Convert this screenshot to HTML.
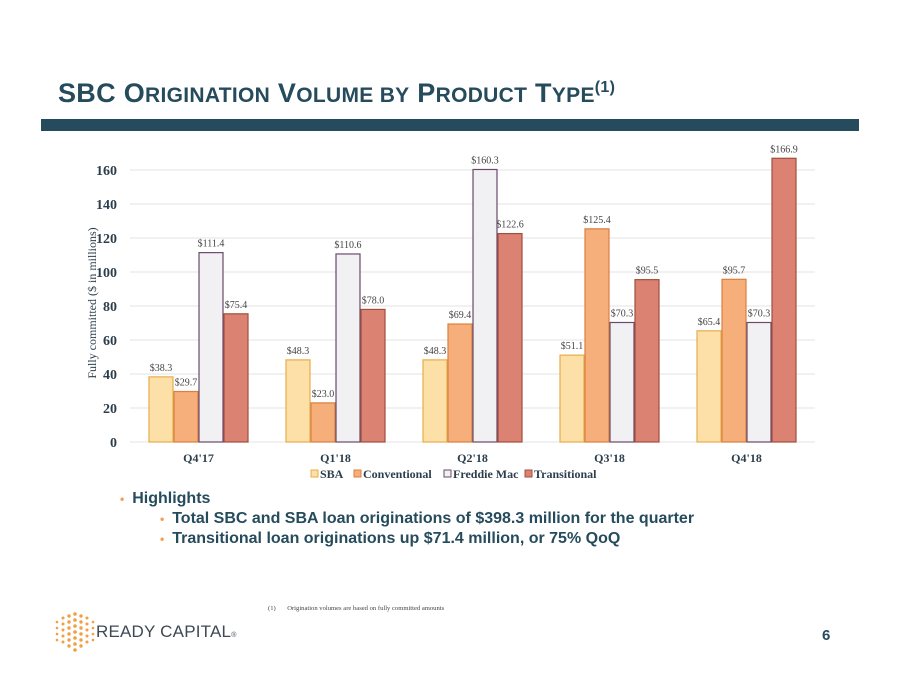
<!DOCTYPE html>
<html><head><meta charset="utf-8"><style>
body{margin:0;width:900px;height:695px;background:#fff;position:relative;font-family:"Liberation Sans",sans-serif;overflow:hidden}
.title{position:absolute;left:58px;top:78px;color:#264b5d;font-weight:bold;font-size:27px;letter-spacing:0.3px}
.title small{font-size:21px}
.band{position:absolute;left:41px;top:119px;width:818px;height:12px;background:#264b5d}
.hl{position:absolute;color:#264b5d;font-weight:bold;font-size:16px}
.hl .b{color:#f0a050;font-size:12px;margin-right:8px}
</style></head><body>
<div class="title">SBC O<small>RIGINATION</small> V<small>OLUME BY</small> P<small>RODUCT</small> T<small>YPE</small><sup style="font-size:16px">(1)</sup></div>
<div class="band"></div>
<svg id="chart" width="900" height="695" style="position:absolute;left:0;top:0" font-family="Liberation Serif, serif"></svg>
<div class="hl" style="left:120px;top:490px"><span class="b">•</span>Highlights</div>
<div class="hl" style="left:160px;top:510px"><span class="b">•</span>Total SBC and SBA loan originations of $398.3 million for the quarter</div>
<div class="hl" style="left:160px;top:530px"><span class="b">•</span>Transitional loan originations up $71.4 million, or 75% QoQ</div>
<div style="position:absolute;left:268px;top:605px;font-family:'Liberation Serif',serif;font-size:6.6px;color:#444">(1)&nbsp;&nbsp;&nbsp;&nbsp;&nbsp;&nbsp;&nbsp;Origination volumes are based on fully committed amounts</div>
<svg style="position:absolute;left:52px;top:612px" width="46" height="40">
<g fill="#f0a040">
<circle cx="5" cy="10" r="1.3"/><circle cx="5" cy="16" r="1.3"/><circle cx="5" cy="22" r="1.3"/><circle cx="5" cy="28" r="1.3"/>
<circle cx="11" cy="6" r="1.5"/><circle cx="11" cy="12" r="1.5"/><circle cx="11" cy="18" r="1.5"/><circle cx="11" cy="24" r="1.5"/><circle cx="11" cy="30" r="1.5"/>
<circle cx="17" cy="4" r="1.7"/><circle cx="17" cy="10" r="1.7"/><circle cx="17" cy="16" r="1.7"/><circle cx="17" cy="22" r="1.7"/><circle cx="17" cy="28" r="1.7"/><circle cx="17" cy="34" r="1.7"/>
<circle cx="23" cy="2" r="1.8"/><circle cx="23" cy="8" r="1.8"/><circle cx="23" cy="14" r="1.8"/><circle cx="23" cy="20" r="1.8"/><circle cx="23" cy="26" r="1.8"/><circle cx="23" cy="32" r="1.8"/><circle cx="23" cy="38" r="1.8"/>
<circle cx="29" cy="4" r="1.7"/><circle cx="29" cy="10" r="1.7"/><circle cx="29" cy="16" r="1.7"/><circle cx="29" cy="22" r="1.7"/><circle cx="29" cy="28" r="1.7"/><circle cx="29" cy="34" r="1.7"/>
<circle cx="35" cy="6" r="1.5"/><circle cx="35" cy="12" r="1.5"/><circle cx="35" cy="18" r="1.5"/><circle cx="35" cy="24" r="1.5"/><circle cx="35" cy="30" r="1.5"/>
<circle cx="41" cy="10" r="1.3"/><circle cx="41" cy="16" r="1.3"/><circle cx="41" cy="22" r="1.3"/><circle cx="41" cy="28" r="1.3"/>
</g></svg>
<div style="position:absolute;left:96px;top:622px;font-size:17px;color:#3d4a55;letter-spacing:0.2px">READY CAPITAL<span style="font-size:7px">®</span></div>
<div style="position:absolute;left:822px;top:627px;font-size:15px;font-weight:bold;color:#264b5d">6</div>
<script>
const categories=["Q4'17","Q1'18","Q2'18","Q3'18","Q4'18"];
const seriesNames=["SBA","Conventional","Freddie Mac","Transitional"];
const sba=[38.3,48.3,48.3,51.1,65.4];
const conventional=[29.7,23.0,69.4,125.4,95.7];
const freddieMac=[111.4,110.6,160.3,70.3,70.3];
const transitional=[75.4,78.0,122.6,95.5,166.9];
const yTicks=[0,20,40,60,80,100,120,140,160];
const series=[sba,conventional,freddieMac,transitional];
const fills=["#fde0a8","#f6ae7a","#f1f0f2","#dc8272"];
const strokes=["#e5ad4a","#d9803f","#6b4a6b","#a04e3e"];
const svg=document.getElementById('chart');
const NS="http://www.w3.org/2000/svg";
const X0=130,X1=815,Y0=442,YMAX=160,YTOP=170;
const y=v=>Y0-(v/YMAX)*(Y0-YTOP);
const band=(X1-X0)/categories.length;
const cx=i=>X0+band*(i+0.5);
const bw=25;
function el(t,a,txt){const e=document.createElementNS(NS,t);for(const k in a)e.setAttribute(k,a[k]);if(txt!==undefined)e.textContent=txt;svg.appendChild(e);return e;}
yTicks.forEach(t=>{
 const g=el('line',{x1:X0,x2:X1,y1:y(t),y2:y(t),stroke:'#e3e3e3','stroke-width':1});
 
 
 const l=el('text',{x:117,y:y(t)+5,'text-anchor':'end','font-size':14,'font-weight':'bold',fill:'#2c3e4c'},t);
 
 
});
const yt=el('text',{x:0,y:0,transform:'translate(96,303) rotate(-90)','text-anchor':'middle','font-size':12,fill:'#2c3e4c'},'Fully committed ($ in millions)');


categories.forEach((c,i)=>{
 series.forEach((s,j)=>{
  const x=cx(i)-2*bw+j*bw, v=s[i];
  const r=el('rect',{x:x+0.5,y:y(v),width:bw-1,height:Y0-y(v),fill:fills[j],stroke:strokes[j],'stroke-width':1.2});
  
  
  const t=el('text',{x:x+bw/2,y:y(v)-6,'text-anchor':'middle','font-size':10,fill:'#444'},'$'+v.toFixed(1));
  
  
 });
 const l=el('text',{x:cx(i),y:462,'text-anchor':'middle','font-size':12,'font-weight':'bold',fill:'#2c3e4c'},c);
 
 
});
const lx=[311,354,444,525];
seriesNames.forEach((n,j)=>{
 const r=el('rect',{x:lx[j],y:470,width:7,height:7,fill:fills[j],stroke:strokes[j]});
 
 
 const t=el('text',{x:lx[j]+9,y:478,'font-size':12,'font-weight':'bold',fill:'#2c3e4c'},n);
 
 
});
</script>
</body></html>
